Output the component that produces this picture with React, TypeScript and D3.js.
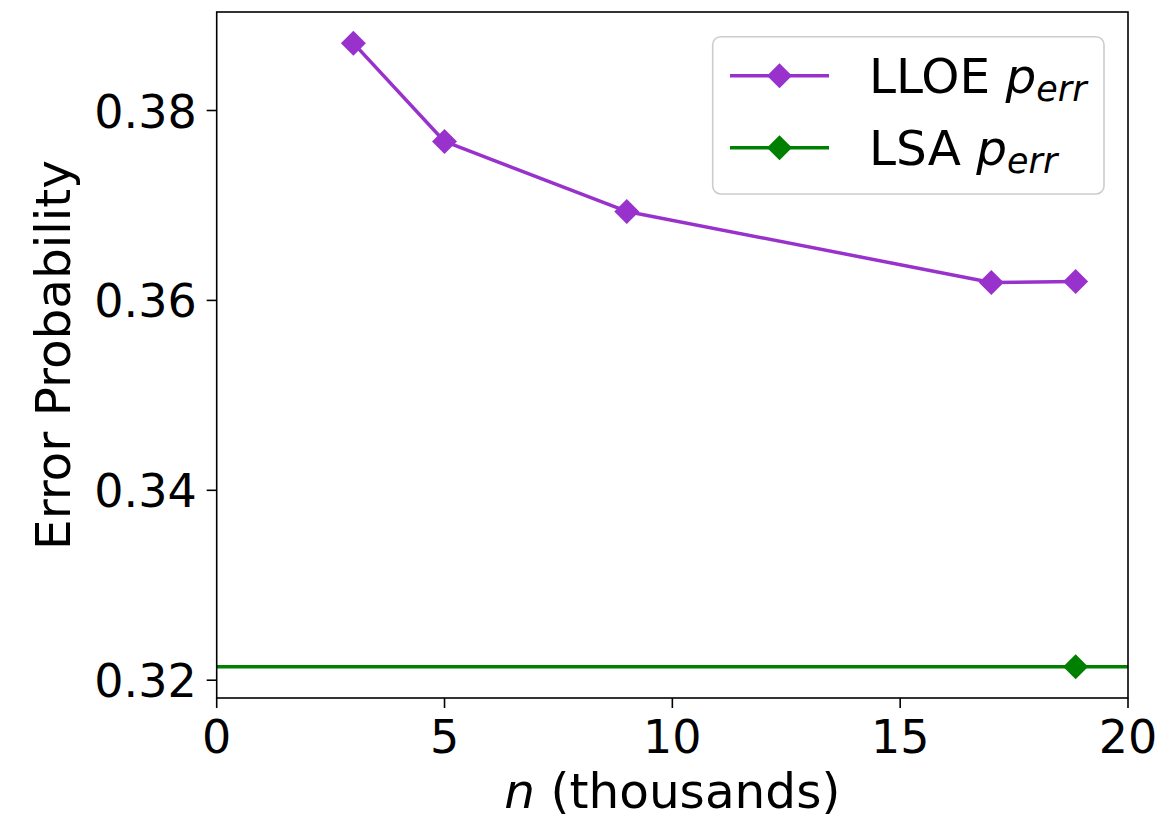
import React from "react";
import * as d3 from "d3";

const lloeN = [3, 5, 9, 17, 18.85];
const lloeErr = [0.38709, 0.37674, 0.36937, 0.36189, 0.362];
const lsaN = [18.85];
const lsaErr = [0.32141];
const xTicks = [0, 5, 10, 15, 20];
const yTicks = [0.32, 0.34, 0.36, 0.38];

const W = 1164;
const H = 826;
const L = 216.7, R = 1128, T = 12, B = 698;
const FONT = "'DejaVu Sans', Verdana, sans-serif";
const FS = 46;
const FL = 48.5;
const PURPLE = "#9932CC";
const GREEN = "#008000";

export default function App() {
  const x = d3.scaleLinear().domain([0, 20]).range([L, R]);
  const allY = [...lloeErr, ...lsaErr];
  const ymin = d3.min(allY)!, ymax = d3.max(allY)!;
  const pad = (ymax - ymin) * 0.05;
  const y = d3.scaleLinear().domain([ymin - pad, ymax + pad]).range([B, T]);
  const line = d3
    .line<number>()
    .x((_, i) => x(lloeN[i]))
    .y((d) => y(d));
  const diamond = (cx: number, cy: number, r = 12.5) =>
    `M${cx},${cy - r}L${cx + r},${cy}L${cx},${cy + r}L${cx - r},${cy}Z`;

  const legendEntries = [
    { label: "LLOE", color: PURPLE, y: 75.7 },
    { label: "LSA", color: GREEN, y: 147.7 },
  ];

  return (
    <svg
      width={W}
      height={H}
      style={{ position: "absolute", left: 0, top: 0, background: "#fff", fontFamily: FONT }}
    >
      <rect x={0} y={0} width={W} height={H} fill="#fff" />
      <defs>
        <clipPath id="plotclip">
          <rect x={L} y={T} width={R - L} height={B - T} />
        </clipPath>
      </defs>
      <g clipPath="url(#plotclip)">
        {lsaErr.map((v, i) => (
          <line key={"lsa" + i} x1={L} x2={R} y1={y(v)} y2={y(v)} stroke={GREEN} strokeWidth={3.5} />
        ))}
        <path d={line(lloeErr) || ""} fill="none" stroke={PURPLE} strokeWidth={3.5} strokeLinejoin="round" />
        {lloeErr.map((v, i) => (
          <path key={"m" + i} d={diamond(x(lloeN[i]), y(v))} fill={PURPLE} />
        ))}
        {lsaErr.map((v, i) => (
          <path key={"g" + i} d={diamond(x(lsaN[i]), y(v))} fill={GREEN} />
        ))}
      </g>
      <rect x={L} y={T} width={R - L} height={B - T} fill="none" stroke="#000" strokeWidth={1.6} />
      {xTicks.map((t) => (
        <g key={"xt" + t}>
          <line x1={x(t)} x2={x(t)} y1={B} y2={B + 10} stroke="#000" strokeWidth={1.6} />
          <text x={x(t)} y={753} fontSize={FS} textAnchor="middle" fill="#000">
            {t}
          </text>
        </g>
      ))}
      {yTicks.map((t) => (
        <g key={"yt" + t}>
          <line x1={L - 10} x2={L} y1={y(t)} y2={y(t)} stroke="#000" strokeWidth={1.6} />
          <text x={L - 20} y={y(t) + 17} fontSize={FS} textAnchor="end" fill="#000">
            {t.toFixed(2)}
          </text>
        </g>
      ))}
      <text x={(L + R) / 2} y={808} fontSize={FL} textAnchor="middle" fill="#000">
        <tspan fontStyle="italic">n</tspan> (thousands)
      </text>
      <text
        transform={`translate(70,${(T + B) / 2}) rotate(-90)`}
        fontSize={FL}
        textAnchor="middle"
        fill="#000"
      >
        Error Probability
      </text>
      <rect x={712.7} y={36.7} width={391.3} height={157.3} rx={8} ry={8} fill="#fff" fillOpacity={0.8} stroke="#cccccc" strokeWidth={1.6} />
      {legendEntries.map((e) => (
        <g key={e.label}>
          <line x1={730} x2={829} y1={e.y} y2={e.y} stroke={e.color} strokeWidth={3.5} />
          <path d={diamond(779.5, e.y)} fill={e.color} />
          <text x={869} y={e.y + 17} fontSize={FL} fill="#000">
            {e.label + " "}
            <tspan fontStyle="italic">p</tspan>
            <tspan fontStyle="italic" fontSize={FL * 0.72} dy={8}>err</tspan>
          </text>
        </g>
      ))}
    </svg>
  );
}
